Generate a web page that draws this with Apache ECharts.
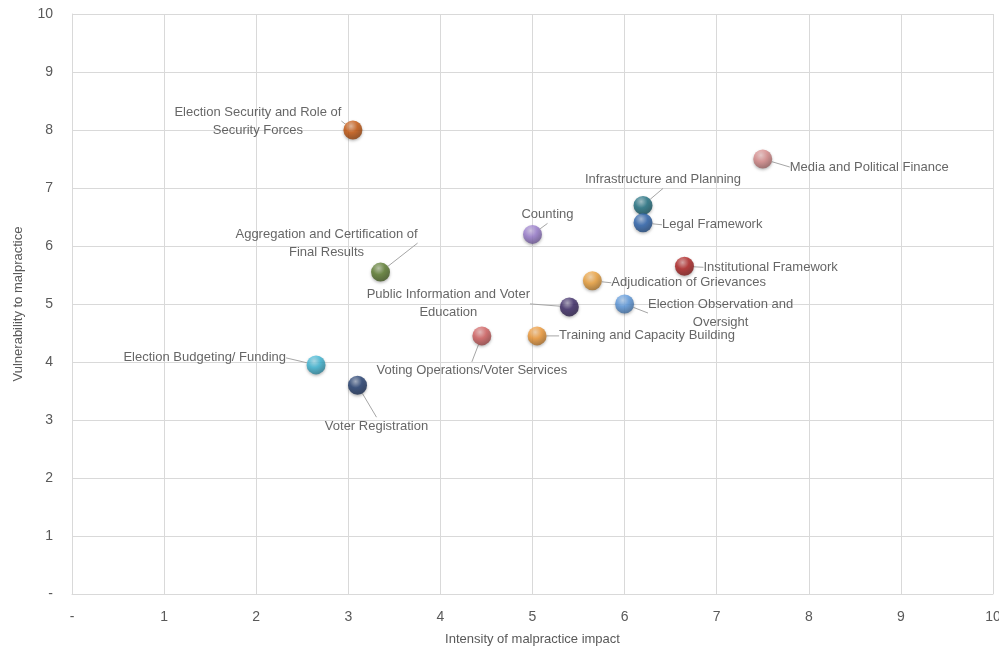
<!DOCTYPE html>
<html>
<head>
<meta charset="utf-8">
<script src="https://cdn.jsdelivr.net/npm/echarts@6/dist/echarts.min.js"></script>
<style>
html,body{margin:0;padding:0;background:#fff;}
#chart{width:999px;height:649px;}
</style>
</head>
<body>
<div id="chart"></div>
<script>
const names = [
  'Election Security and Role of\nSecurity Forces',
  'Media and Political Finance',
  'Infrastructure and Planning',
  'Legal Framework',
  'Counting',
  'Aggregation and Certification of\nFinal Results',
  'Institutional Framework',
  'Adjudication of Grievances',
  'Public Information and Voter\nEducation',
  'Election Observation and\nOversight',
  'Voting Operations/Voter Services',
  'Training and Capacity Building',
  'Election Budgeting/ Funding',
  'Voter Registration'
];
const intensity = [3.05, 7.5, 6.2, 6.2, 5.0, 3.35, 6.65, 5.65, 5.4, 6.0, 4.45, 5.05, 2.65, 3.1];
const vulnerability = [8.0, 7.5, 6.7, 6.4, 6.2, 5.55, 5.65, 5.4, 4.95, 5.0, 4.45, 4.45, 3.95, 3.6];
const xTicks = ['-', '1', '2', '3', '4', '5', '6', '7', '8', '9', '10'];
const yTicks = ['-', '1', '2', '3', '4', '5', '6', '7', '8', '9', '10'];

// styles (not data)
const colors = ['#c8560c', '#d98a8a', '#1d6f80', '#2a62ad', '#9a7ccf', '#5a7a2c', '#b02020', '#efa23a',
  '#3a2766', '#5c9ae0', '#d45f5f', '#f29a36', '#3cb7d6', '#1f3b6e'];
const labelOffsets = [
  [-95, -9, 'center'], [27, 8, 'left'], [20, -26, 'center'], [19, 2, 'left'],
  [15, -20, 'center'], [-54, -29, 'center'], [19, 1, 'left'], [19, 2, 'left'],
  [-121, -3, 'center'], [96, 9, 'center'], [-10, 35, 'center'], [22, 0, 'left'],
  [-30, -7, 'right'], [19, 41, 'center']
];

function lighten(hex, amt) {
  const n = parseInt(hex.slice(1), 16);
  let r = n >> 16, g = (n >> 8) & 255, b = n & 255;
  r = Math.round(r + (255 - r) * amt); g = Math.round(g + (255 - g) * amt); b = Math.round(b + (255 - b) * amt);
  return 'rgb(' + r + ',' + g + ',' + b + ')';
}
function darken(hex, amt) {
  const n = parseInt(hex.slice(1), 16);
  let r = n >> 16, g = (n >> 8) & 255, b = n & 255;
  return 'rgb(' + Math.round(r * (1 - amt)) + ',' + Math.round(g * (1 - amt)) + ',' + Math.round(b * (1 - amt)) + ')';
}

const data = names.map((n, i) => ({
  name: n,
  value: [intensity[i], vulnerability[i]],
  itemStyle: {
    color: {
      type: 'radial', x: 0.4, y: 0.3, r: 0.75,
      colorStops: [
        { offset: 0, color: lighten(colors[i], 0.55) },
        { offset: 0.45, color: colors[i] },
        { offset: 1, color: darken(colors[i], 0.35) }
      ]
    },
    shadowBlur: 3, shadowColor: 'rgba(0,0,0,0.35)', shadowOffsetY: 1.5
  }
}));

const chart = echarts.init(document.getElementById('chart'));
const axisFont = { color: '#595959', fontSize: 14, fontFamily: 'Liberation Sans' };
chart.setOption({
  animation: false,
  backgroundColor: '#fff',
  grid: { left: 72, right: 6, top: 14, bottom: 55, containLabel: false, outerBoundsMode: 'none' },
  xAxis: {
    type: 'value', min: 0, max: 10, interval: 1,
    name: 'Intensity of malpractice impact', nameLocation: 'middle', nameGap: 39,
    nameTextStyle: { color: '#595959', fontSize: 13, fontFamily: 'Liberation Sans' },
    axisLine: { show: true, lineStyle: { color: '#d9d9d9' } },
    axisTick: { show: false },
    axisLabel: Object.assign({ margin: 16, formatter: (v) => xTicks[Math.round(v)] }, axisFont),
    splitLine: { show: true, lineStyle: { color: '#d9d9d9' } }
  },
  yAxis: {
    type: 'value', min: 0, max: 10, interval: 1,
    name: 'Vulnerability to malpractice', nameLocation: 'middle', nameGap: 47,
    nameTextStyle: { color: '#595959', fontSize: 13, fontFamily: 'Liberation Sans' },
    axisLine: { show: true, lineStyle: { color: '#d9d9d9' } },
    axisTick: { show: false },
    axisLabel: Object.assign({ margin: 19, formatter: (v) => yTicks[Math.round(v)] }, axisFont),
    splitLine: { show: true, lineStyle: { color: '#d9d9d9' } }
  },
  series: [{
    type: 'scatter',
    symbolSize: 19,
    data: data,
    label: {
      show: true,
      position: 'inside',
      formatter: (p) => p.name,
      color: '#404040',
      fontSize: 13,
      lineHeight: 18,
      fontFamily: 'Liberation Sans',
      align: 'center'
    },
    labelLine: { show: true, lineStyle: { color: '#a6a6a6', width: 1 } },
    labelLayout: (p) => {
      const o = labelOffsets[p.dataIndex];
      return { dx: o[0], dy: o[1], align: o[2] };
    }
  }]
});
</script>
</body>
</html>
